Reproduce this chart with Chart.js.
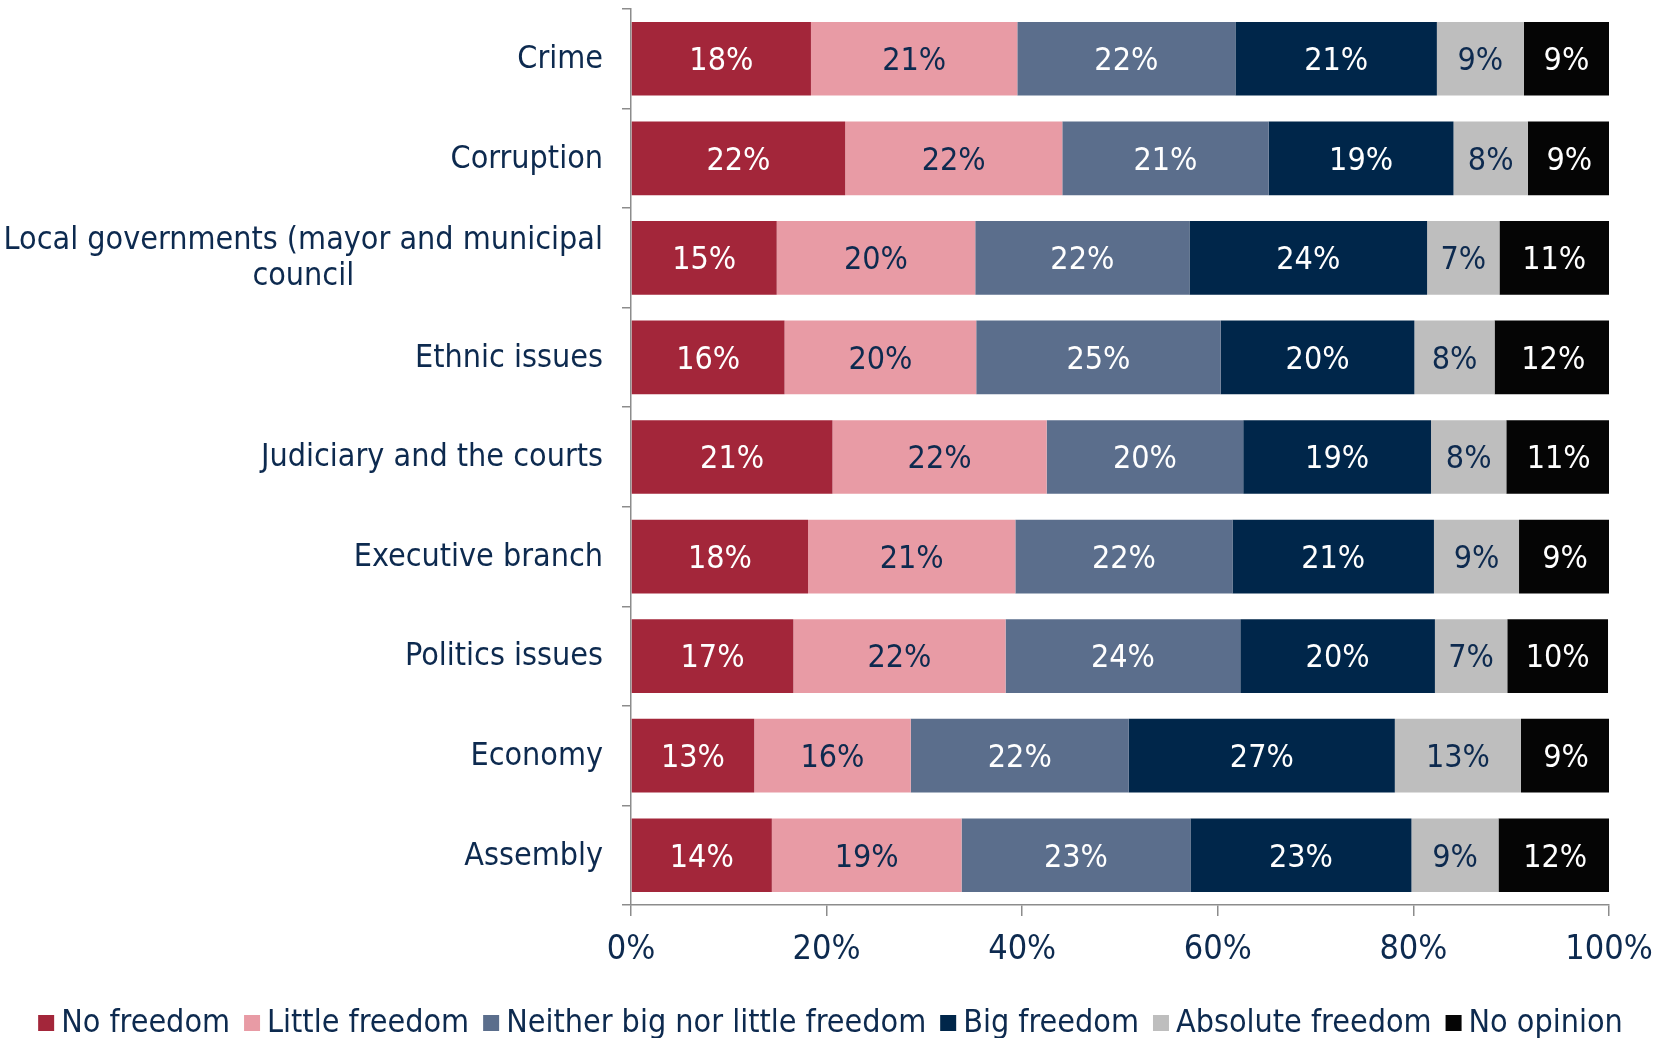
<!DOCTYPE html>
<html>
<head>
<meta charset="utf-8">
<script src="https://cdn.jsdelivr.net/npm/chart.js@4"></script>
<style>
  html, body { margin: 0; padding: 0; background: #fff; }
  #wrap { width: 1669px; height: 1038px; }
</style>
</head>
<body>
<div id="wrap"><canvas id="chart"></canvas></div>
<script>
var FONT = '"DejaVu Sans Condensed", "Liberation Sans Narrow", sans-serif'
var NAVY = '#0d2a4f'

var categories = [
  'Crime', 'Corruption', 'Local governments (mayor and municipal council',
  'Ethnic issues', 'Judiciary and the courts', 'Executive branch',
  'Politics issues', 'Economy', 'Assembly'
]
var seriesNames = ['No freedom', 'Little freedom', 'Neither big nor little freedom',
                   'Big freedom', 'Absolute freedom', 'No opinion']
var seriesColors = ['#a3263a', '#e89ba5', '#5b6e8c', '#00264a', '#bebebe', '#050505']
var labelColors = ['#ffffff', NAVY, '#ffffff', '#ffffff', NAVY, '#ffffff']

// share of answers, %
var noFreedom       = [18.4, 21.9, 14.9, 15.7, 20.6, 18.1, 16.6, 12.6, 14.4]
var littleFreedom   = [21.1, 22.2, 20.3, 19.6, 21.9, 21.2, 21.7, 16.0, 19.4]
var neitherFreedom  = [22.3, 21.1, 21.9, 25.0, 20.1, 22.2, 24.0, 22.3, 23.4]
var bigFreedom      = [20.6, 18.9, 24.3, 19.8, 19.2, 20.6, 19.9, 27.2, 22.6]
var absoluteFreedom = [ 8.9,  7.6,  7.4,  8.2,  7.7,  8.7,  7.4, 12.9,  8.9]
var noOpinion       = [ 8.7,  8.5, 11.2, 12.0, 10.7,  9.4, 10.3,  9.2, 11.6]
var xTicks = [0, 20, 40, 60, 80, 100]

var allSeries = [noFreedom, littleFreedom, neitherFreedom, bigFreedom, absoluteFreedom, noOpinion]

var datasets = allSeries.map(function(vals, i) {
  return {
    label: seriesNames[i],
    data: vals,
    backgroundColor: seriesColors[i],
    borderWidth: 0,
    categoryPercentage: 1.0,
    barPercentage: 0.74
  }
})

// value labels inside the bars
var barLabels = {
  id: 'barLabels',
  afterDatasetsDraw: function(chart) {
    var ctx = chart.ctx
    ctx.save()
    ctx.font = '32px ' + FONT
    ctx.textAlign = 'center'
    ctx.textBaseline = 'middle'
    chart.data.datasets.forEach(function(ds, i) {
      var meta = chart.getDatasetMeta(i)
      meta.data.forEach(function(bar, j) {
        var cx = (bar.x + bar.base) / 2
        ctx.fillStyle = labelColors[i]
        ctx.fillText(Math.round(ds.data[j]) + '%', cx, bar.y + 3)
      })
    })
    ctx.restore()
  }
}

// category names, right aligned; wrapped line centred under the first
var catLabels = {
  id: 'catLabels',
  afterDraw: function(chart) {
    var ctx = chart.ctx
    var y = chart.scales.y
    var right = y.right - 28
    ctx.save()
    ctx.font = '32px ' + FONT
    ctx.fillStyle = NAVY
    ctx.textBaseline = 'middle'
    categories.forEach(function(c, i) {
      var py = y.getPixelForValue(i)
      if (c.indexOf('(') > 0) {
        var l1 = 'Local governments (mayor and municipal'
        var l2 = 'council'
        var w1 = ctx.measureText(l1).width
        ctx.textAlign = 'right'
        ctx.fillText(l1, right, py - 17)
        ctx.textAlign = 'center'
        ctx.fillText(l2, right - w1 / 2, py + 19)
      } else {
        ctx.textAlign = 'right'
        ctx.fillText(c, right, py + 1)
      }
    })
    ctx.restore()
  }
}

// compact legend row under the axis
var bottomLegend = {
  id: 'bottomLegend',
  afterDraw: function(chart) {
    var ctx = chart.ctx
    var box = 16, gapText = 7, gapItem = 14
    ctx.save()
    ctx.font = '32px ' + FONT
    ctx.textBaseline = 'middle'
    ctx.textAlign = 'left'
    var total = 0
    chart.data.datasets.forEach(function(ds, i) {
      total += box + gapText + ctx.measureText(ds.label).width
      if (i < chart.data.datasets.length - 1) total += gapItem
    })
    var x = chart.width / 2 - total / 2 - 4
    var yc = 1023
    chart.data.datasets.forEach(function(ds) {
      ctx.fillStyle = ds.backgroundColor
      ctx.fillRect(x, yc - box / 2, box, box)
      x += box + gapText
      ctx.fillStyle = NAVY
      ctx.fillText(ds.label, x, yc + 1)
      x += ctx.measureText(ds.label).width + gapItem
    })
    ctx.restore()
  }
}

new Chart(document.getElementById('chart'), {
  type: 'bar',
  data: { labels: categories, datasets: datasets },
  options: {
    indexAxis: 'y',
    responsive: true,
    maintainAspectRatio: false,
    animation: false,
    layout: { padding: { top: 9, right: 60, left: 0, bottom: 53 } },
    scales: {
      x: {
        stacked: true,
        min: 0,
        max: 100,
        afterBuildTicks: function(scale) {
          scale.ticks = xTicks.map(function(v) { return { value: v } })
        },
        afterFit: function(scale) { scale.height = 80 },
        border: { display: true, color: '#8c8c8c', width: 1.5 },
        grid: { drawOnChartArea: false, drawTicks: true, tickLength: 11, color: '#8c8c8c', lineWidth: 1.5 },
        ticks: {
          color: NAVY,
          font: { family: FONT, size: 34 },
          padding: 14,
          callback: function(v) { return v + '%' }
        }
      },
      y: {
        stacked: true,
        afterFit: function(scale) { scale.width = 631 },
        border: { display: true, color: '#8c8c8c', width: 1.5 },
        grid: { offset: true, drawOnChartArea: false, drawTicks: true, tickLength: 9, color: '#8c8c8c', lineWidth: 1.5 },
        ticks: { display: false }
      }
    },
    plugins: {
      legend: { display: false },
      tooltip: { enabled: false }
    }
  },
  plugins: [barLabels, catLabels, bottomLegend]
})
</script>
</body>
</html>
